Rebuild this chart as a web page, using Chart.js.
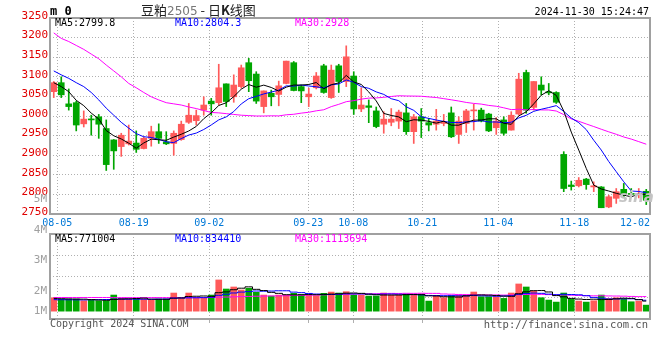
<!DOCTYPE html>
<html>
<head>
<meta charset="utf-8">
<script src="https://cdn.jsdelivr.net/npm/chart.js@4.4.1/dist/chart.umd.min.js"></script>
<style>
  body { margin: 0; background: #fff; }
  #wrap { position: relative; width: 660px; height: 360px; overflow: hidden; }
  canvas { position: absolute; left: 0; }
  .t { position: absolute; white-space: pre; font-family: 'DejaVu Sans Mono', monospace; font-size: 10px; line-height: 10px; }
</style>
</head>
<body>
<div id="wrap">
  <canvas id="kline" width="660" height="232" style="top:0"></canvas>
  <canvas id="vol" width="660" height="174" style="top:186px"></canvas>

  <div class="t" style="left:50px;top:5px;font-size:12px;line-height:12px;font-weight:bold">m 0</div>
  <div class="t" style="left:141px;top:2px;font-family:'Noto Sans CJK SC';font-size:13px;line-height:15px;color:#222">豆粕<span style="font-family:'DejaVu Sans';font-size:12px;color:#777">2505</span> - 日<b>K</b>线图</div>
  <div class="t" style="right:11px;top:7px">2024-11-30 15:24:47</div>

  <div class="t" id="lgMa5"  style="left:55px;top:18px;color:#000"></div>
  <div class="t" id="lgMa10" style="left:175px;top:18px;color:#0000ff"></div>
  <div class="t" id="lgMa30" style="left:295px;top:18px;color:#ff00ff"></div>

  <div class="t" id="lgVol5"  style="left:55px;top:234px;color:#000"></div>
  <div class="t" id="lgVol10" style="left:175px;top:234px;color:#0000ff"></div>
  <div class="t" id="lgVol30" style="left:295px;top:234px;color:#ff00ff"></div>

  <div class="t" style="left:619px;top:190px;font-family:'DejaVu Sans';font-style:italic;font-weight:bold;font-size:15px;line-height:15px;color:#c4c4c4">sina</div>

  <div class="t" style="left:50px;top:319px;color:#555">Copyright 2024 SINA.COM</div>
  <div class="t" style="right:12px;top:319px;color:#555;font-size:10.5px">http://finance.sina.com.cn</div>
</div>

<script>
// trading days, 2024-08-02 .. 2024-12-02
var dates = [
  '08-02','08-05','08-06','08-07','08-08','08-09','08-12','08-13','08-14','08-15',
  '08-16','08-19','08-20','08-21','08-22','08-23','08-26','08-27','08-28','08-29',
  '08-30','09-02','09-03','09-04','09-05','09-06','09-09','09-10','09-11','09-12',
  '09-13','09-18','09-19','09-20','09-23','09-24','09-25','09-26','09-27','09-30',
  '10-08','10-09','10-10','10-11','10-14','10-15','10-16','10-17','10-18','10-21',
  '10-22','10-23','10-24','10-25','10-28','10-29','10-30','10-31','11-01','11-04',
  '11-05','11-06','11-07','11-08','11-11','11-12','11-13','11-14','11-15','11-18',
  '11-19','11-20','11-21','11-22','11-25','11-26','11-27','11-28','11-29','12-02'
];

var open = [
  3062,3085,3031,3034,2980,2992,2998,2968,2939,2922, 2929,2931,2917,2943,2960,2934,2930,2940,2984,2988,
  3015,3038,3034,3082,3049,3075,3136,3107,3024,3058, 3055,3083,3136,3075,3049,3072,3128,3047,3128,3088,
  3102,3018,3026,3013,2979,2984,2987,3008,2960,2998, 2983,2979,2981,3008,2953,2981,3013,3015,3005,2970,
  2990,2964,3005,3111,3022,3079,3060,3060,2902,2824, 2822,2839,2819,2819,2768,2790,2813,2802,2800,2808
];
var high = [
  3088,3100,3069,3038,3013,3002,3004,2990,2940,2956, 2977,2962,2947,2974,2980,2960,2962,2987,3032,3015,
  3049,3045,3132,3082,3105,3130,3147,3113,3064,3066, 3089,3140,3139,3079,3071,3111,3132,3130,3132,3179,
  3113,3072,3041,3023,3011,3019,3015,3032,3004,3019, 2994,3017,3004,3023,2998,3017,3030,3020,3007,2996,
  2998,3011,3109,3117,3088,3100,3083,3062,2909,2834, 2843,2841,2832,2820,2798,2815,2828,2815,2815,2813
];
var low = [
  3047,3047,3015,2962,2972,2951,2943,2861,2864,2897, 2926,2907,2916,2923,2930,2927,2900,2938,2981,2977,
  3002,3002,3028,3024,3035,3071,3062,3032,3008,3026, 3026,3082,3064,3034,3024,3069,3058,3045,3060,3075,
  3004,3011,2983,2970,2956,2975,2968,2953,2930,2945, 2962,2964,2975,2945,2930,2958,2964,2985,2960,2953,
  2951,2964,3002,3007,3015,3054,3054,3032,2807,2811, 2819,2813,2807,2766,2766,2777,2794,2794,2791,2774
];
var close = [
  3085,3054,3024,2977,2992,2990,2979,2876,2911,2951, 2936,2915,2943,2960,2943,2929,2956,2979,3002,3001,
  3028,3031,3072,3037,3079,3123,3090,3038,3064,3049, 3077,3140,3065,3064,3056,3102,3060,3117,3088,3151,
  3018,3028,3022,2973,2992,2992,3010,2960,2998,2987, 2977,2987,2985,2947,2987,3013,3015,2987,2962,2987,
  2956,3002,3094,3015,3088,3066,3059,3035,2815,2820, 2836,2825,2822,2766,2794,2807,2802,2800,2802,2785
];

var ma5 = [
  3085,3075,3062,3040,3026.4,3007.4,2992.4,2962.8,2949.6,2941.4, 2930.6,2917.8,2931.2,2941,2939.4,2938,2946.2,2953.4,2961.8,2973.4,
  2993.2,3008.2,3026.8,3033.8,3049.4,3068.4,3080.2,3073.4,3078.8,3072.8, 3063.6,3073.6,3079,3079,3080.4,3085.4,3069.4,3079.8,3084.6,3103.6,
  3086.8,3080.4,3061.4,3038.4,3006.6,3001.4,2997.8,2985.4,2990.4,2989.4, 2986.4,2981.8,2986.8,2976.6,2976.6,2983.8,2989.4,2989.8,2992.8,2992.8,
  2981.4,2978.8,3000.2,3010.8,3031,3053,3064.4,3052.6,3012.6,2959, 2913,2866.2,2823.6,2813.8,2808.6,2802.8,2798.2,2793.8,2801,2799.8
];
var ma10 = [
  3115,3105,3096,3085,3075,3060,3041,3020,3002,2983.9, 2969.0,2955.1,2947.0,2945.3,2940.4,2934.3,2932.0,2942.3,2951.4,2956.4,
  2965.6,2977.2,2990.1,2997.8,3011.4,3030.8,3044.2,3050.1,3056.3,3061.1, 3066.0,3076.9,3076.2,3078.9,3076.6,3074.5,3071.5,3079.4,3081.8,3092.0,
  3086.1,3074.9,3070.6,3061.5,3055.1,3044.1,3039.1,3023.4,3014.4,2998.0, 2993.9,2989.8,2986.1,2983.5,2983.0,2985.1,2985.6,2988.3,2984.7,2984.7,
  2982.6,2984.1,2995.0,3001.8,3011.9,3017.2,3021.6,3026.4,3011.7,2995.0, 2983.0,2965.3,2938.1,2913.2,2883.8,2857.9,2832.2,2808.7,2807.4,2804.3
];
var ma30 = [
  3212,3198,3190,3180,3170,3158,3146,3130,3115,3100, 3083,3072,3060,3049,3041,3034,3031,3028,3023,3019,
  3014,3009,3008,3006,3004,3002,3001,3000,3000,3000.5, 3000.2,3003.1,3004.4,3007.3,3009.5,3013.2,3015.9,3023.9,3029.8,3036.5,
  3039.2,3043.0,3045.6,3046.1,3047.7,3049.8,3051.6,3051.0,3050.8,3050.4, 3048.7,3047.2,3044.3,3041.3,3038.2,3034.6,3032.1,3030.4,3027.0,3024.9,
  3020.9,3016.3,3017.2,3015.6,3016.7,3015.5,3015.4,3012.7,3003.6,2992.6, 2986.5,2979.7,2973.1,2966.2,2959.6,2953.4,2946.5,2941.1,2934.6,2928
];

var volume = [
  1027000,924000,924000,924000,796000,847000,796000,796000,1232000,975000,
  924000,924000,924000,847000,924000,924000,1386000,975000,1386000,1027000,
  1027000,1232000,2387000,1694000,1848000,1617000,1746000,1438000,1232000,1155000,
  1232000,1232000,1361000,1284000,1232000,1181000,1361000,1460000,1386000,1489000,
  1232000,1232000,1155000,1155000,1386000,1232000,1232000,1309000,1232000,1309000,
  770000,1181000,1027000,1181000,1232000,1232000,1463000,1104000,1104000,1104000,
  975000,1386000,2079000,1848000,1540000,1027000,847000,693000,1386000,924000,
  770000,693000,796000,1232000,975000,1027000,924000,719000,770000,462000
];
var volMa5 = [
  975000,950000,935000,925000,919000,883000,857000,832000,893000,929000,
  945000,970000,996000,919000,909000,909000,1001000,1011000,1119000,1140000,
  1160000,1129000,1412000,1473000,1638000,1756000,1858000,1669000,1576000,1438000,
  1361000,1258000,1242000,1253000,1268000,1258000,1284000,1304000,1324000,1375000,
  1386000,1360000,1299000,1253000,1232000,1232000,1232000,1263000,1278000,1263000,
  1170000,1160000,1104000,1094000,1078000,1171000,1227000,1242000,1227000,1201000,
  1150000,1135000,1330000,1478000,1566000,1576000,1468000,1191000,1099000,975000,
  924000,893000,914000,883000,893000,945000,991000,975000,883000,771004
];
var volMa10 = [
  880000,875000,870000,865000,860000,870000,880000,890000,905000,924000,
  914000,914000,914000,906000,919000,927000,986000,1004000,1019000,1024000,
  1034000,1065000,1212000,1296000,1389000,1458000,1494000,1540000,1525000,1538000,
  1558000,1558000,1456000,1415000,1353000,1309000,1271000,1273000,1288000,1322000,
  1322000,1322000,1301000,1288000,1304000,1309000,1296000,1281000,1265000,1247000,
  1201000,1196000,1183000,1186000,1171000,1171000,1194000,1173000,1160000,1140000,
  1160000,1181000,1286000,1353000,1384000,1363000,1301000,1260000,1289000,1271000,
  1250000,1181000,1052000,991000,934000,934000,942000,945000,883000,834410
];
var volMa30 = [
  1045000,1045000,1045000,1045000,1045000,1045000,1045000,1045000,1035000,1035000,
  1035000,1035000,1035000,1035000,1035000,1035000,1035000,1035000,1035000,1035000,
  1035000,1045000,1065000,1080000,1095000,1110000,1125000,1140000,1152000,1162000,
  1169000,1179000,1194000,1206000,1220000,1231000,1250000,1272000,1277000,1295000,
  1305000,1315000,1323000,1333000,1348000,1359000,1354000,1365000,1360000,1369000,
  1360000,1359000,1313000,1296000,1276000,1263000,1253000,1242000,1238000,1236000,
  1228000,1233000,1257000,1276000,1286000,1281000,1264000,1238000,1238000,1219000,
  1204000,1186000,1174000,1176000,1163000,1156000,1146000,1126000,1111000,1113694
];

// date axis: where the grid lines sit (in candle index units) and their labels
var xTickAt     = [0.47, 10.66, 20.74, 33.94, 39.94, 49.14, 59.27, 69.41, 77.5];
var xTickLabels = ['08-05','08-19','09-02','09-23','10-08','10-21','11-04','11-18','12-02'];

// volume panel side labels, as sina prints them
var volTickAt     = [0, 1560000, 3910000, 6200000, 8580000];
var volTickLabels = ['1M', '2M', '3M', '4M', '5M'];

var RED = '#ff5a5a', GREEN = '#00a600', GRID = '#b0b0b0', MONO = 'DejaVu Sans Mono';

var candleColor = close.map(function(c, i) { return c >= open[i] ? RED : GREEN; });
var last = function(a) { return a[a.length - 1]; };

document.getElementById('lgMa5').textContent  = 'MA5:'  + last(ma5).toFixed(1);
document.getElementById('lgMa10').textContent = 'MA10:' + last(ma10).toFixed(1);
document.getElementById('lgMa30').textContent = 'MA30:' + Math.round(last(ma30));
document.getElementById('lgVol5').textContent  = 'MA5:'  + Math.round(last(volMa5));
document.getElementById('lgVol10').textContent = 'MA10:' + Math.round(last(volMa10));
document.getElementById('lgVol30').textContent = 'MA30:' + Math.round(last(volMa30));

var framePlugin = {
  id: 'frame',
  afterDraw: function(chart) {
    var a = chart.chartArea, c = chart.ctx;
    c.save();
    c.strokeStyle = '#a0a0a0';
    c.lineWidth = 2;
    c.strokeRect(a.left, a.top, a.right - a.left, a.bottom - a.top);
    c.restore();
  }
};

var volLabelPlugin = {
  id: 'volLabels',
  afterDraw: function(chart) {
    var y = chart.scales.y, c = chart.ctx;
    c.save();
    c.fillStyle = '#a0a0a0';
    c.font = '11px "' + MONO + '"';
    c.textAlign = 'right';
    c.textBaseline = 'middle';
    volTickLabels.forEach(function(t, i) {
      c.fillText(t, chart.chartArea.left - 3, y.getPixelForValue(volTickAt[i]));
    });
    c.restore();
  }
};

function lineSet(data, color, order, stepped) {
  return { type: 'line', data: data, borderColor: color, borderWidth: 1, pointRadius: 0,
           stepped: stepped || false, order: order, xAxisID: 'x', yAxisID: 'y' };
}

function dateAxis(showLabels, height) {
  return {
    type: 'linear', position: 'bottom', min: -0.5, max: 79.5, offset: false,
    afterBuildTicks: function(s) { s.ticks = xTickAt.map(function(v) { return { value: v }; }); },
    afterFit: function(s) { s.height = height; },
    ticks: {
      display: showLabels, autoSkip: false, maxRotation: 0, padding: 3,
      color: '#0078d7', font: { family: MONO, size: 10 },
      callback: function(v, i) { return xTickLabels[i]; }
    },
    grid: {
      offset: false,
      color: function(ctx) { return ctx.index === xTickAt.length - 1 ? 'rgba(0,0,0,0)' : GRID; },
      drawTicks: !showLabels, tickLength: 4
    },
    border: { display: false, dash: [1, 2] }
  };
}

var common = {
  responsive: false,
  animation: false,
  events: [],
  plugins: { legend: { display: false }, tooltip: { enabled: false } }
};

new Chart(document.getElementById('kline'), {
  type: 'bar',
  data: {
    labels: dates,
    datasets: [
      lineSet(ma5, '#000000', 0),
      lineSet(ma10, '#0000ff', 1),
      lineSet(ma30, '#ff00ff', 2),
      { data: open.map(function(o, i) { return [o, close[i]]; }), backgroundColor: candleColor,
        barThickness: 6, minBarLength: 1, grouped: false, order: 3, xAxisID: 'x', yAxisID: 'y' },
      { data: low.map(function(l, i) { return [l, high[i]]; }), backgroundColor: candleColor,
        barThickness: 1, grouped: false, order: 4, xAxisID: 'x', yAxisID: 'y' }
    ]
  },
  options: Object.assign({}, common, {
    layout: { padding: { top: 18, right: 10, left: 0, bottom: 0 } },
    scales: {
      x: { display: false, offset: true },
      xt: dateAxis(true, 18),
      y: {
        min: 2750, max: 3250,
        afterFit: function(s) { s.width = 50; },
        ticks: { stepSize: 50, color: '#e00000', font: { family: MONO, size: 11 }, padding: 2, labelOffset: -2,
                 callback: function(v) { return String(v); } },
        grid: { color: GRID, drawTicks: false },
        border: { display: false, dash: [1, 2] }
      }
    }
  }),
  plugins: [framePlugin]
});

var volMin = -600000, volMax = 5900000;

new Chart(document.getElementById('vol'), {
  type: 'bar',
  data: {
    labels: dates,
    datasets: [
      lineSet(volMa5, '#000000', 0, 'middle'),
      lineSet(volMa10, '#0000ff', 1, 'middle'),
      lineSet(volMa30, '#ff00ff', 2, 'middle'),
      { data: volume, backgroundColor: candleColor, barThickness: 6, grouped: false, order: 3,
        xAxisID: 'x', yAxisID: 'y' }
    ]
  },
  options: Object.assign({}, common, {
    layout: { padding: { top: 48, right: 10, left: 0, bottom: 0 } },
    scales: {
      x: { display: false, offset: true },
      xt: dateAxis(false, 41),
      y: {
        min: volMin, max: volMax,
        afterFit: function(s) { s.width = 50; },
        afterBuildTicks: function(s) {
          s.ticks = [0, 1, 2, 3, 4].map(function(k) { return { value: volMin + k * (volMax - volMin) / 4 }; });
        },
        ticks: { display: false },
        grid: { color: GRID, drawTicks: false },
        border: { display: false, dash: [1, 2] }
      }
    }
  }),
  plugins: [framePlugin, volLabelPlugin]
});
</script>
</body>
</html>
